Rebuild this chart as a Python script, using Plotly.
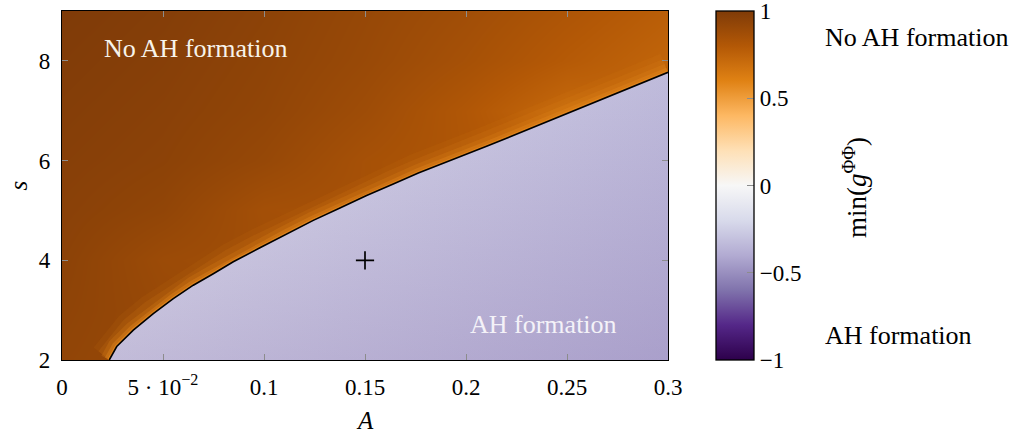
import plotly.graph_objects as go
import plotly.colors as pc

# ---------------- data ----------------
A_grid = [0.0, 0.05, 0.1, 0.15, 0.2, 0.25, 0.3]
s_grid = [2, 3, 4, 5, 6, 7, 8, 9]
# min(g^PhiPhi) on the "No AH formation" side (None = inside the AH region)
z_s2 = [0.93, None, None, None, None, None, None]
z_s3 = [0.94, None, None, None, None, None, None]
z_s4 = [0.95, 0.89, None, None, None, None, None]
z_s5 = [0.96, 0.93, 0.86, None, None, None, None]
z_s6 = [0.97, 0.95, 0.91, 0.85, None, None, None]
z_s7 = [0.98, 0.96, 0.93, 0.88, 0.81, 0.72, None]
z_s8 = [0.99, 0.97, 0.94, 0.90, 0.85, 0.79, 0.74]
z_s9 = [1.00, 0.98, 0.95, 0.91, 0.87, 0.82, 0.77]

# zero contour (AH formation boundary)
boundary_A = [0.0234, 0.0271, 0.0353, 0.0452, 0.0551, 0.0650, 0.0749, 0.0848,
              0.0980, 0.1112, 0.1244, 0.1376, 0.1508, 0.1640, 0.1764,
              0.2105, 0.2490, 0.3000]
boundary_s = [2.00, 2.27, 2.60, 2.93, 3.23, 3.50, 3.73, 3.97,
              4.25, 4.53, 4.80, 5.05, 5.30, 5.53, 5.75,
              6.29, 6.93, 7.77]

# values in the AH-formation region
purple_left_val = -0.15       # gradient along A (before the s-dependent darkening)
purple_right_val = -0.33
purple_dark_val = -0.70       # darkening tint toward small s
glow_val = 0.58               # value right on the brown side of the contour

marker_A = [0.15]
marker_s = [4]

x_ticks = [0, 0.05, 0.1, 0.15, 0.2, 0.25, 0.3]
x_ticktext = ["0", "5 · 10<sup>−2</sup>", "0.1", "0.15", "0.2", "0.25", "0.3"]
y_ticks = [2, 4, 6, 8]
cb_ticks = [-1, -0.5, 0, 0.5, 1]
cb_ticktext = ["−1", "−0.5", "0", "0.5", "1"]

A_range = [0, 0.3]
s_range = [2, 9]

# ---------------- styling ----------------
FONT = "Liberation Serif"
puor = list(reversed(pc.diverging.PuOr))
n = len(puor)
cscale = [[i / (n - 1), c] for i, c in enumerate(puor)]


def col(v, alpha=None):
    c = pc.sample_colorscale(cscale, [(v + 1) / 2])[0]
    if alpha is None:
        return c
    r, g, b = pc.unlabel_rgb(c)
    return f"rgba({r:.0f},{g:.0f},{b:.0f},{alpha})"


z = [z_s2, z_s3, z_s4, z_s5, z_s6, z_s7, z_s8, z_s9]

fig = go.Figure()

fig.add_trace(go.Heatmap(
    x=A_grid, y=s_grid, z=z, zmin=-1, zmax=1, colorscale=cscale,
    zsmooth="best", connectgaps=True, hoverinfo="skip",
    colorbar=dict(
        x=(716 - 62) / 606, xanchor="left", xref="paper",
        y=0.5, yanchor="middle", len=1.0, lenmode="fraction",
        thickness=38, thicknessmode="pixels",
        outlinewidth=1.3, outlinecolor="black",
        xpad=0, ypad=0,
        tickmode="array", tickvals=cb_ticks, ticktext=cb_ticktext,
        ticklabeloverflow="allow",
        ticks="inside", ticklen=7, tickwidth=1, tickcolor="#8c8c8c",
        tickfont=dict(family=FONT, size=23, color="black"),
    ),
))

# bright glow on the brown side of the contour (stacked translucent strokes)
for w, a in zip([40, 28, 18, 10, 4], [0.08, 0.14, 0.22, 0.38, 0.75]):
    fig.add_trace(go.Scatter(
        x=boundary_A, y=boundary_s, mode="lines",
        line=dict(color=col(glow_val, a), width=w), hoverinfo="skip", showlegend=False,
    ))

# AH-formation region
poly_A = boundary_A + [A_range[1]]
poly_s = boundary_s + [s_range[0]]
fig.add_trace(go.Scatter(
    x=poly_A, y=poly_s, mode="lines", fill="toself", line=dict(width=0),
    fillgradient=dict(type="horizontal",
                      colorscale=[[0, col(purple_left_val)],
                                  [1, col(purple_right_val)]],
                      start=boundary_A[0], stop=A_range[1]),
    hoverinfo="skip", showlegend=False,
))
fig.add_trace(go.Scatter(
    x=poly_A, y=poly_s, mode="lines", fill="toself", line=dict(width=0),
    fillgradient=dict(type="vertical",
                      colorscale=[[0, col(purple_dark_val, 0.25)],
                                  [1, col(purple_dark_val, 0.0)]],
                      start=s_range[0], stop=boundary_s[-1]),
    hoverinfo="skip", showlegend=False,
))

# contour line
fig.add_trace(go.Scatter(
    x=boundary_A, y=boundary_s, mode="lines",
    line=dict(color="black", width=1.6), hoverinfo="skip", showlegend=False,
))

fig.add_trace(go.Scatter(
    x=marker_A, y=marker_s, mode="markers",
    marker=dict(symbol="cross-thin", size=13, line=dict(color="black", width=1.7)),
    hoverinfo="skip", showlegend=False,
))

axis_common = dict(
    showline=True, linecolor="black", linewidth=1.3, mirror="allticks",
    ticks="inside", ticklen=6, tickwidth=1, tickcolor="#8c8c8c",
    showgrid=False, zeroline=False,
    tickfont=dict(family=FONT, size=23, color="black"),
    layer="above traces",
)

fig.update_layout(
    width=1030, height=434,
    margin=dict(l=62, r=362, t=11, b=74, autoexpand=False),
    paper_bgcolor="white", plot_bgcolor="white",
    font=dict(family=FONT, size=23, color="black"),
    xaxis=dict(range=A_range, tickmode="array", tickvals=x_ticks, ticktext=x_ticktext,
               ticklabelstandoff=6, **axis_common),
    yaxis=dict(range=s_range, tickmode="array", tickvals=y_ticks,
               ticklabelstandoff=6, **axis_common),
    showlegend=False,
)

annotations = [
    dict(text="<i>A</i>", x=0.15, xref="x", y=(360 - 420) / 349, yref="paper",
         xanchor="center", yanchor="middle", showarrow=False, font=dict(size=25)),
    dict(text="<i>s</i>", x=(18 - 62) / 606, xref="paper", y=5.5, yref="y",
         xanchor="center", yanchor="middle", showarrow=False, textangle=-90,
         font=dict(size=25)),
    dict(text="min(<i>g</i><sup>ΦΦ</sup>)", x=(855 - 62) / 606, xref="paper",
         y=(360 - 187) / 349, yref="paper", xanchor="center", yanchor="middle",
         showarrow=False, textangle=-90, font=dict(size=27)),
    dict(text="No AH formation", x=(823 - 62) / 606, xref="paper", xanchor="left",
         y=(360 - 38) / 349, yref="paper", yanchor="middle", showarrow=False,
         font=dict(size=26)),
    dict(text="AH formation", x=(823 - 62) / 606, xref="paper", xanchor="left",
         y=(360 - 335) / 349, yref="paper", yanchor="middle", showarrow=False,
         font=dict(size=26)),
    dict(text="No AH formation", x=0.0198, xref="x", xanchor="left",
         y=8.24, yref="y", yanchor="middle", showarrow=False,
         font=dict(size=26, color="#f7f3ea")),
    dict(text="AH formation", x=0.201, xref="x", xanchor="left",
         y=2.72, yref="y", yanchor="middle", showarrow=False,
         font=dict(size=26, color="#f4f2f8")),
]
fig.update_layout(annotations=annotations)

fig.write_html("out.html", config={"displayModeBar": False},
               post_script="document.body.style.margin='0';")
